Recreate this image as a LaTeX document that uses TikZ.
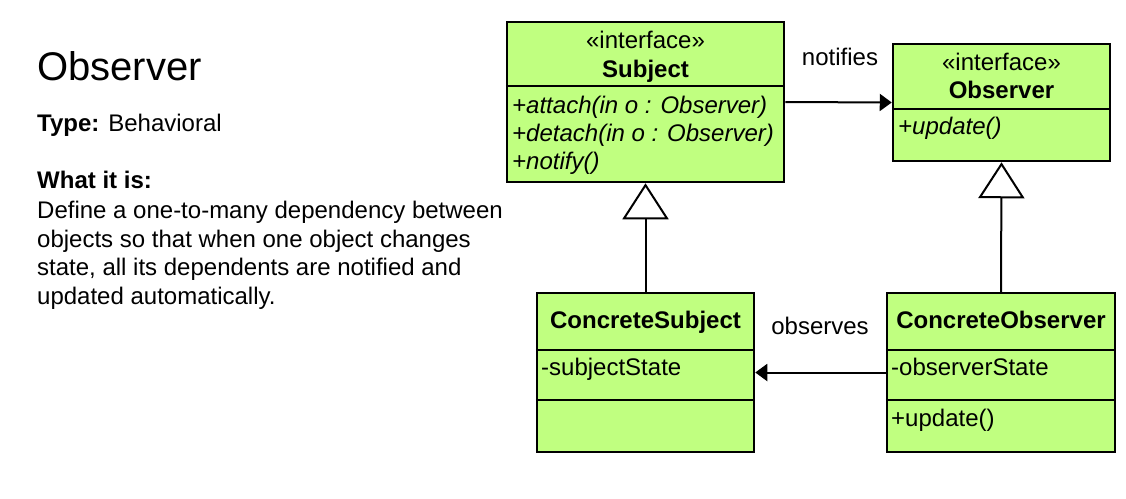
\documentclass[tikz,border=0pt]{standalone}
\usepackage{fontspec}
\setmainfont{Liberation Sans}
\usetikzlibrary{arrows.meta}
\definecolor{umlgreen}{RGB}{192,255,128}
\begin{document}
\begin{tikzpicture}[x=1pt,y=-1pt,
  umlbox/.style={draw=black, fill=umlgreen, line width=2.5pt, rectangle, inner sep=0pt},
  divider/.style={line width=2.5pt},
  txt/.style={inner sep=0pt, font=\fontsize{24}{28}\selectfont},
  lt/.style={txt, anchor=base west},
  ct/.style={txt, anchor=base},
  conn/.style={line width=2pt},
  assoc/.style={conn, -{Triangle[length=12pt, width=17pt]}},
  gen/.style={conn, -{Triangle[open, fill=white, length=36pt, width=46pt, line width=2pt]}}
]
\useasboundingbox (0,0) rectangle (1126,498);

% left text
\node[inner sep=0pt, anchor=base west, font=\fontsize{40}{48}\selectfont] (title) at (37,80) {Observer};
\node[lt] (type) at (37,131) {\textbf{Type:} Behavioral};
\node[lt] (what) at (37,188) {\textbf{What it is:}};
\node[lt] (d1) at (37,218) {Define a one-to-many dependency between};
\node[lt] (d2) at (37,247) {objects so that when one object changes};
\node[lt] (d3) at (37,275) {state, all its dependents are notified and};
\node[lt] (d4) at (37,304) {updated automatically.};

% boxes
\node[umlbox, minimum width=277pt, minimum height=160pt] (subject) at (645.5,102) {};
\node[umlbox, minimum width=217pt, minimum height=117pt] (observer) at (1001.5,102.5) {};
\node[umlbox, minimum width=217pt, minimum height=159pt] (csubject) at (645.5,372.5) {};
\node[umlbox, minimum width=228pt, minimum height=159pt] (cobserver) at (1001,372.5) {};

% dividers
\draw[divider] ([yshift=-65pt]subject.north west) -- ([yshift=-65pt]subject.north east);
\draw[divider] ([yshift=-66pt]observer.north west) -- ([yshift=-66pt]observer.north east);
\draw[divider] ([yshift=-58pt]csubject.north west) -- ([yshift=-58pt]csubject.north east);
\draw[divider] ([yshift=-108pt]csubject.north west) -- ([yshift=-108pt]csubject.north east);
\draw[divider] ([yshift=-58pt]cobserver.north west) -- ([yshift=-58pt]cobserver.north east);
\draw[divider] ([yshift=-108pt]cobserver.north west) -- ([yshift=-108pt]cobserver.north east);

% Subject texts
\node[ct] (s1) at (645.5,48) {«interface»};
\node[ct] (s2) at (645.5,77) {\textbf{Subject}};
\node[lt] (s3) at (512,113) {\textit{+attach(in o : Observer)}};
\node[lt] (s4) at (512,141) {\textit{+detach(in o : Observer)}};
\node[lt] (s5) at (512,169) {\textit{+notify()}};

% Observer texts
\node[ct] (o1) at (1001.5,70) {«interface»};
\node[ct] (o2) at (1001.5,98) {\textbf{Observer}};
\node[lt] (o3) at (898,134) {\textit{+update()}};

% ConcreteSubject texts
\node[ct] (cs1) at (645.5,328) {\textbf{ConcreteSubject}};
\node[lt] (cs2) at (541,375) {-subjectState};

% ConcreteObserver texts
\node[ct] (co1) at (1001,328) {\textbf{ConcreteObserver}};
\node[lt] (co2) at (891,375) {-observerState};
\node[lt] (co3) at (891,426) {+update()};

% connectors
\draw[assoc] (subject.east) -- (observer.west);
\draw[assoc] (cobserver.west) -- (csubject.east);
\draw[gen] (csubject.north) -- (subject.south);
\draw[gen] (cobserver.north) -- (observer.south);

% connector labels
\node[ct] (notifies) at (840,65) {notifies};
\node[ct] (observes) at (820,334) {observes};
\end{tikzpicture}
\end{document}
